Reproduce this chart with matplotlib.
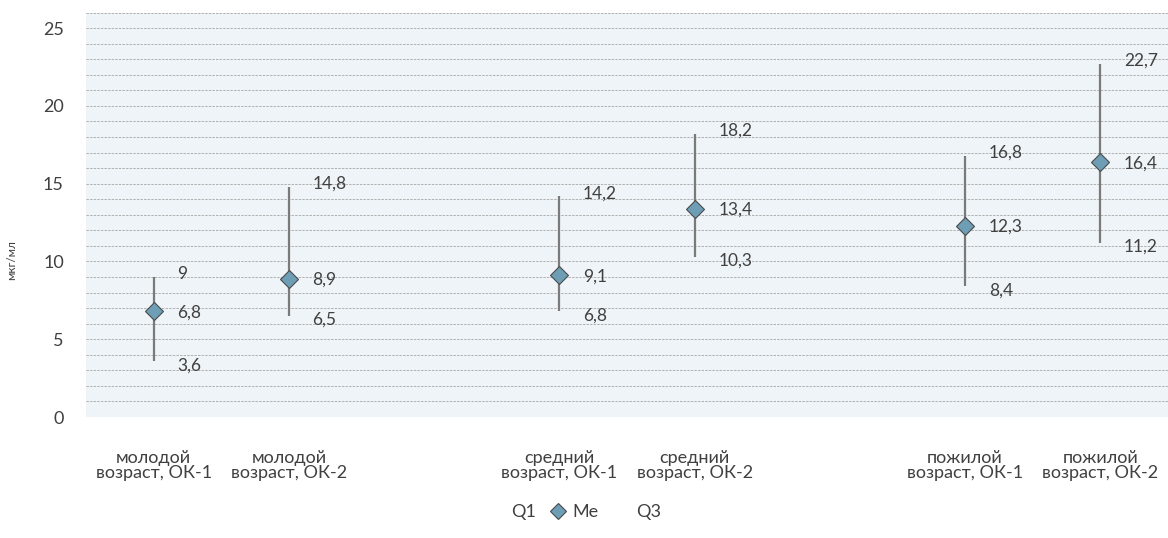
import numpy as np
import matplotlib.pyplot as plt
from matplotlib.lines import Line2D

plt.rcParams['font.family'] = ['Lato', 'DejaVu Sans']

# Data
categories = [
    "молодой\nвозраст, ОК-1", "молодой\nвозраст, ОК-2",
    "средний\nвозраст, ОК-1", "средний\nвозраст, ОК-2",
    "пожилой\nвозраст, ОК-1", "пожилой\nвозраст, ОК-2",
]
slots = [0, 1, 3, 4, 6, 7]
q1 = [3.6, 6.5, 6.8, 10.3, 8.4, 11.2]
me = [6.8, 8.9, 9.1, 13.4, 12.3, 16.4]
q3 = [9.0, 14.8, 14.2, 18.2, 16.8, 22.7]

text_color = "#404040"
line_color = "#7A7A7A"
marker_color = "#6E9EB6"


def fmt(v):
    s = f"{v:g}"
    return s.replace(".", ",")


fig = plt.figure(figsize=(11.68, 5.38), dpi=100)
ax = fig.add_axes([86 / 1168, 1 - 417 / 538, 1 - 86 / 1168, (417 - 12.5) / 538])
ax.set_facecolor("#EEF4F7")

ax.set_xlim(-0.5, 7.5)
ax.set_ylim(0, 26)

for yv in range(0, 27):
    ax.axhline(yv, color="#B0B0B0", linestyle=(0, (2.5, 1.2)), linewidth=0.7, zorder=1)

ax.vlines(slots, q1, q3, color=line_color, linewidth=1.6, zorder=2)
ax.plot(slots, me, linestyle="none", marker="D", markersize=9,
        markerfacecolor=marker_color, markeredgecolor="#4A4A4A",
        markeredgewidth=0.8, zorder=3)

for x, a, m, b in zip(slots, q1, me, q3):
    ax.annotate(fmt(b), (x, b), xytext=(17, 2), textcoords="offset points",
                va="center", ha="left", fontsize=12.5, color=text_color)
    ax.annotate(fmt(m), (x, m), xytext=(17, -1), textcoords="offset points",
                va="center", ha="left", fontsize=12.5, color=text_color)
    ax.annotate(fmt(a), (x, a), xytext=(17, -3), textcoords="offset points",
                va="center", ha="left", fontsize=12.5, color=text_color)

ax.set_yticks([0, 5, 10, 15, 20, 25])
ax.set_xticks(slots)
ax.set_xticklabels(categories, fontsize=13, color=text_color, linespacing=0.9)
ax.tick_params(axis="y", length=0, pad=16, labelsize=13, labelcolor=text_color)
ax.tick_params(axis="x", length=0, pad=24)
for s in ax.spines.values():
    s.set_visible(False)

fig.text(12 / 1168, 1 - 260 / 538, "мкг/мл", rotation=90, va="center", ha="center",
         fontsize=8.5, color=text_color)

handles = [
    Line2D([], [], linestyle="none"),
    Line2D([], [], linestyle="none", marker="D", markersize=8,
           markerfacecolor=marker_color, markeredgecolor="#4A4A4A", markeredgewidth=0.8),
    Line2D([], [], linestyle="none"),
]
fig.legend(handles, ["Q1", "Me", "Q3"], loc="center", bbox_to_anchor=(0.492, 1 - 512 / 538),
           ncol=3, frameon=False, fontsize=13, labelcolor=text_color,
           handlelength=0.9, handletextpad=0.35, columnspacing=0.8)

fig.savefig("out.png", dpi=100)
